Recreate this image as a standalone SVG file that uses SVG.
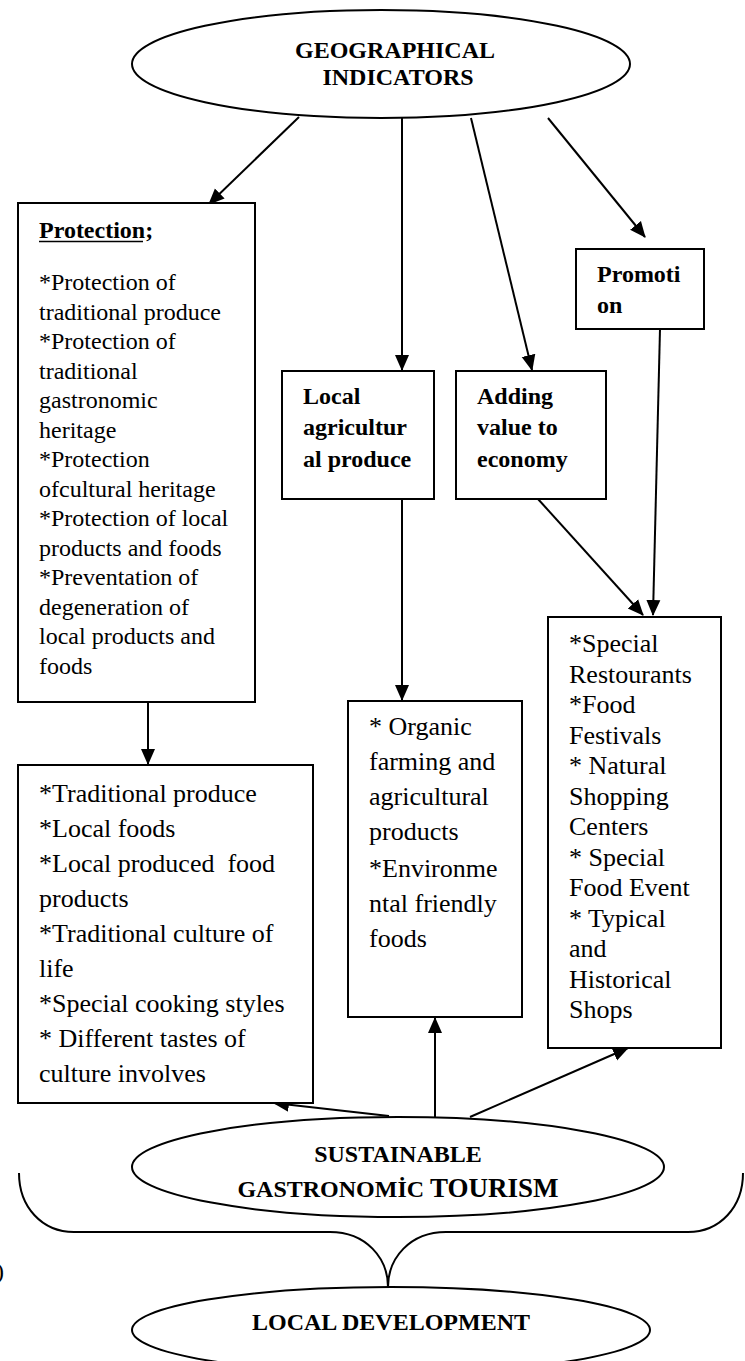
<svg xmlns="http://www.w3.org/2000/svg" width="745" height="1361" viewBox="0 0 745 1361">
<style>
.box{fill:#fff;stroke:#000;stroke-width:2}
.ell{fill:#fff;stroke:#000;stroke-width:2}
.t{font-family:"Liberation Serif","Times New Roman",serif;font-size:24px;fill:#000}
.b{font-weight:bold}
.s26{font-size:26px}
.c{text-anchor:middle}
.ln{stroke:#000;stroke-width:2;fill:none}
</style>
<defs>
<marker id="ah" markerUnits="userSpaceOnUse" markerWidth="16" markerHeight="16" viewBox="0 0 16 16" refX="15" refY="8" orient="auto">
<path d="M0,1 L16,8 L0,15 Z" fill="#000"/>
</marker>
</defs>
<rect width="745" height="1361" fill="#fff"/>

<g id="connectors">
<line class="ln" x1="299" y1="117" x2="209" y2="204" marker-end="url(#ah)"/>
<line class="ln" x1="402" y1="118" x2="402" y2="370" marker-end="url(#ah)"/>
<line class="ln" x1="471" y1="118" x2="532" y2="370" marker-end="url(#ah)"/>
<line class="ln" x1="548" y1="118" x2="645" y2="237" marker-end="url(#ah)"/>
<line class="ln" x1="148" y1="702" x2="148" y2="764" marker-end="url(#ah)"/>
<line class="ln" x1="402" y1="499" x2="402" y2="700" marker-end="url(#ah)"/>
<line class="ln" x1="538" y1="499" x2="643" y2="615" marker-end="url(#ah)"/>
<line class="ln" x1="660" y1="329" x2="653" y2="615" marker-end="url(#ah)"/>
<line class="ln" x1="389" y1="1116" x2="274" y2="1103" marker-end="url(#ah)"/>
<line class="ln" x1="435" y1="1117" x2="435" y2="1018" marker-end="url(#ah)"/>
<line class="ln" x1="470" y1="1117" x2="628" y2="1048" marker-end="url(#ah)"/>
<path class="ln" d="M19,1173 C19,1207 42,1232 74,1232 L330,1232 C366,1232 388,1258 388,1287 C388,1258 410,1232 446,1232 L688,1232 C720,1232 743,1207 743,1173"/>
</g>

<g id="geo">
<ellipse class="ell" cx="381" cy="64" rx="249" ry="54"/>
<text class="t b c" x="395" y="58">GEOGRAPHICAL</text>
<text class="t b c" x="398" y="85">INDICATORS</text>
</g>

<g id="protection">
<rect class="box" x="18" y="203" width="237" height="499"/>
<text class="t b" x="39" y="238">Protection;</text>
<line x1="39" y1="241.5" x2="143" y2="241.5" stroke="#000" stroke-width="1.6"/>
<text class="t" x="39" y="290">*Protection of</text>
<text class="t" x="39" y="319.5">traditional produce</text>
<text class="t" x="39" y="349">*Protection of</text>
<text class="t" x="39" y="378.5">traditional</text>
<text class="t" x="39" y="408">gastronomic</text>
<text class="t" x="39" y="437.5">heritage</text>
<text class="t" x="39" y="467">*Protection</text>
<text class="t" x="39" y="496.5">ofcultural heritage</text>
<text class="t" x="39" y="526">*Protection of local</text>
<text class="t" x="39" y="555.5">products and foods</text>
<text class="t" x="39" y="585">*Preventation of</text>
<text class="t" x="39" y="614.5">degeneration of</text>
<text class="t" x="39" y="644">local products and</text>
<text class="t" x="39" y="673.5">foods</text>
</g>

<g id="local">
<rect class="box" x="282" y="371" width="152" height="128"/>
<text class="t b" x="303" y="404">Local</text>
<text class="t b" x="303" y="435">agricultur</text>
<text class="t b" x="303" y="467">al produce</text>
</g>

<g id="adding">
<rect class="box" x="456" y="371" width="150" height="128"/>
<text class="t b" x="477" y="404">Adding</text>
<text class="t b" x="477" y="435">value to</text>
<text class="t b" x="477" y="467">economy</text>
</g>

<g id="promotion">
<rect class="box" x="576" y="249" width="128" height="80"/>
<text class="t b" x="597" y="282">Promoti</text>
<text class="t b" x="597" y="313">on</text>
</g>

<g id="traditional">
<rect class="box" x="18" y="765" width="295" height="338"/>
<text class="t s26" x="39" y="802">*Traditional produce</text>
<text class="t s26" x="39" y="837">*Local foods</text>
<text class="t s26" x="39" y="872" style="white-space:pre">*Local produced  food</text>
<text class="t s26" x="39" y="907">products</text>
<text class="t s26" x="39" y="942">*Traditional culture of</text>
<text class="t s26" x="39" y="977">life</text>
<text class="t s26" x="39" y="1012">*Special cooking styles</text>
<text class="t s26" x="39" y="1047">* Different tastes of</text>
<text class="t s26" x="39" y="1082">culture involves</text>
</g>

<g id="organic">
<rect class="box" x="348" y="701" width="174" height="316"/>
<text class="t s26" x="369" y="735">* Organic</text>
<text class="t s26" x="369" y="770">farming and</text>
<text class="t s26" x="369" y="805">agricultural</text>
<text class="t s26" x="369" y="840">products</text>
<text class="t s26" x="369" y="877">*Environme</text>
<text class="t s26" x="369" y="912">ntal friendly</text>
<text class="t s26" x="369" y="947">foods</text>
</g>

<g id="special">
<rect class="box" x="548" y="617" width="173" height="431"/>
<text class="t s26" x="569" y="652">*Special</text>
<text class="t s26" x="569" y="682.5">Restourants</text>
<text class="t s26" x="569" y="713">*Food</text>
<text class="t s26" x="569" y="743.5">Festivals</text>
<text class="t s26" x="569" y="774">* Natural</text>
<text class="t s26" x="569" y="804.5">Shopping</text>
<text class="t s26" x="569" y="835">Centers</text>
<text class="t s26" x="569" y="865.5">* Special</text>
<text class="t s26" x="569" y="896">Food Event</text>
<text class="t s26" x="569" y="926.5">* Typical</text>
<text class="t s26" x="569" y="957">and</text>
<text class="t s26" x="569" y="987.5">Historical</text>
<text class="t s26" x="569" y="1018">Shops</text>
</g>

<g id="sustainable">
<ellipse class="ell" cx="398" cy="1167" rx="266" ry="50"/>
<text class="t b c" x="398" y="1162">SUSTAINABLE</text>
<text class="t b c" x="398" y="1197">GASTRONOMİC <tspan style="font-size:27px">TOURISM</tspan></text>
</g>

<g id="localdev">
<ellipse class="ell" cx="391" cy="1330" rx="259" ry="43"/>
<text class="t b c" x="391" y="1330">LOCAL DEVELOPMENT</text>
</g>

<text class="t" x="-4" y="1279">)</text>
</svg>
